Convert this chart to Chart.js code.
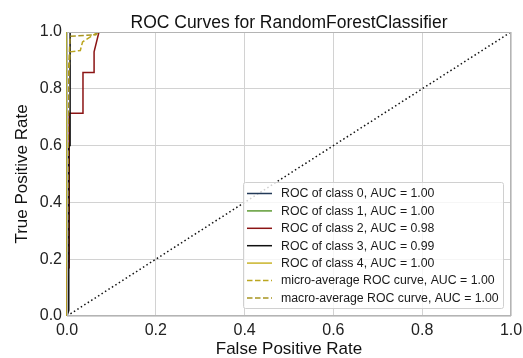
<!DOCTYPE html>
<html>
<head>
<meta charset="utf-8">
<script src="https://cdn.jsdelivr.net/npm/chart.js@4"></script>
<style>
html,body{margin:0;padding:0;background:#fff;}
#wrap{width:523px;height:358px;position:relative;}
</style>
</head>
<body>
<div id="wrap"><canvas id="c" width="523" height="358"></canvas></div>
<script>
// ---- Data ----
const titleText = "ROC Curves for RandomForestClassifier";
const xTitle = "False Positive Rate";
const yTitle = "True Positive Rate";
const tickValues = [0.0, 0.2, 0.4, 0.6, 0.8, 1.0];

const labels = [
  "ROC of class 0, AUC = 1.00",
  "ROC of class 1, AUC = 1.00",
  "ROC of class 2, AUC = 0.98",
  "ROC of class 3, AUC = 0.99",
  "ROC of class 4, AUC = 1.00",
  "micro-average ROC curve, AUC = 1.00",
  "macro-average ROC curve, AUC = 1.00"
];

const class0FPR = [0, 0, 1];
const class0TPR = [0, 1, 1];
const class1FPR = [0, 0, 1];
const class1TPR = [0, 1, 1];
const class2FPR = [0, 0, 0.005, 0.005, 0.036, 0.036, 0.061, 0.061, 0.072, 1];
const class2TPR = [0, 0.17, 0.17, 0.714, 0.714, 0.857, 0.857, 0.93, 1, 1];
const class3FPR = [0, 0.004, 0.004, 0.007, 0.007, 1];
const class3TPR = [0, 0.02, 0.6, 0.6, 1, 1];
const class4FPR = [0, 0, 1];
const class4TPR = [0, 1, 1];
const microFPR = [0, 0.002, 0.007, 0.03, 0.035, 0.07, 1];
const microTPR = [0, 0.8, 0.93, 0.935, 0.965, 1, 1];
const macroFPR = [0, 0.004, 0.007, 0.065, 0.07, 1];
const macroTPR = [0, 0.88, 0.985, 0.99, 1, 1];
const diagFPR = [0, 1];
const diagTPR = [0, 1];

const colors = ["#233a58", "#5f9b35", "#8b1414", "#111111", "#c9b42a", "#bba620", "#a89520"];

function pts(xs, ys){ return xs.map((x,i)=>({x:x, y:ys[i]})); }

const series = [
  [class0FPR, class0TPR], [class1FPR, class1TPR], [class2FPR, class2TPR],
  [class3FPR, class3TPR], [class4FPR, class4TPR], [microFPR, microTPR], [macroFPR, macroTPR]
];

const datasets = series.map((s, i) => ({
  label: labels[i],
  data: pts(s[0], s[1]),
  borderColor: colors[i],
  backgroundColor: colors[i],
  borderWidth: 1.5,
  borderDash: i >= 5 ? [5.5, 2.5] : [],
  showLine: true,
  pointRadius: 0,
  fill: false,
  tension: 0,
  clip: {left: 2, top: 0, right: 0, bottom: 0},
  order: 10 - i
}));
datasets.push({
  label: "_diag",
  data: pts(diagFPR, diagTPR),
  borderColor: "#111111",
  borderWidth: 1.5,
  borderDash: [1.5, 2.6],
  showLine: true,
  pointRadius: 0,
  fill: false,
  order: 20
});

const FONT = "'Liberation Sans', Arial, sans-serif";

const overlayPlugin = {
  id: 'overlay',
  afterDraw(chart){
    const ctx = chart.ctx;
    const ca = chart.chartArea;
    // spines on top
    ctx.save();
    ctx.strokeStyle = "#b4b4b4";
    ctx.lineWidth = 1;
    ctx.strokeRect(Math.round(ca.left) + 0.5, Math.round(ca.top) + 0.5,
                   Math.round(ca.right - ca.left) - 1, Math.round(ca.bottom - ca.top) - 1);
    ctx.restore();

    // title centred over plot area
    ctx.save();
    ctx.font = "17.5px " + FONT;
    ctx.fillStyle = "#111";
    ctx.textAlign = "center";
    ctx.textBaseline = "alphabetic";
    ctx.fillText(titleText, (ca.left + ca.right) / 2, 28);
    ctx.restore();

    // legend
    const bx = 243, by = 182, bw = 260, bh = 126;
    ctx.save();
    ctx.fillStyle = "rgba(255,255,255,0.8)";
    ctx.strokeStyle = "#d0d0d0";
    ctx.lineWidth = 1;
    const r = 2;
    ctx.beginPath();
    ctx.moveTo(bx + r + 0.5, by + 0.5);
    ctx.lineTo(bx + bw - r + 0.5, by + 0.5);
    ctx.quadraticCurveTo(bx + bw + 0.5, by + 0.5, bx + bw + 0.5, by + r + 0.5);
    ctx.lineTo(bx + bw + 0.5, by + bh - r + 0.5);
    ctx.quadraticCurveTo(bx + bw + 0.5, by + bh + 0.5, bx + bw - r + 0.5, by + bh + 0.5);
    ctx.lineTo(bx + r + 0.5, by + bh + 0.5);
    ctx.quadraticCurveTo(bx + 0.5, by + bh + 0.5, bx + 0.5, by + bh - r + 0.5);
    ctx.lineTo(bx + 0.5, by + r + 0.5);
    ctx.quadraticCurveTo(bx + 0.5, by + 0.5, bx + r + 0.5, by + 0.5);
    ctx.closePath();
    ctx.fill();
    ctx.stroke();

    ctx.font = "12.3px " + FONT;
    ctx.textBaseline = "middle";
    ctx.textAlign = "left";
    const ds = chart.data.datasets.filter(d => d.label && d.label[0] !== '_');
    ds.forEach((d, i) => {
      const y = 193.5 + i * 17.4;
      ctx.strokeStyle = d.borderColor;
      ctx.lineWidth = 1.5;
      ctx.setLineDash(d.borderDash || []);
      ctx.beginPath();
      ctx.moveTo(247, y);
      ctx.lineTo(272, y);
      ctx.stroke();
      ctx.setLineDash([]);
      ctx.fillStyle = "#1a1a1a";
      ctx.fillText(d.label, 281, y + 0.5);
    });
    ctx.restore();
  }
};

new Chart(document.getElementById('c'), {
  type: 'scatter',
  data: { datasets: datasets },
  options: {
    responsive: false,
    animation: false,
    layout: { padding: { left: 0, right: 12, top: 32, bottom: 0 } },
    plugins: {
      legend: { display: false },
      tooltip: { enabled: false },
      title: { display: false }
    },
    scales: {
      x: {
        type: 'linear',
        min: 0, max: 1,
        afterFit(scale){ scale.height = 42; scale.paddingLeft = 0; scale.paddingRight = 0; },
        afterBuildTicks(scale){ scale.ticks = tickValues.map(v => ({value: v})); },
        ticks: {
          color: "#222",
          font: { family: FONT, size: 16 },
          padding: 5,
          maxRotation: 0,
          callback: v => Number(v).toFixed(1)
        },
        grid: { color: "#d2d2d2", lineWidth: 1, drawTicks: false },
        border: { display: false },
        title: {
          display: true, text: xTitle, color: "#111",
          font: { family: FONT, size: 17, lineHeight: 1 },
          padding: { top: 0, bottom: 0 }
        }
      },
      y: {
        type: 'linear',
        min: 0, max: 1,
        afterFit(scale){ scale.width = 67; scale.paddingTop = 0; scale.paddingBottom = 0; },
        afterBuildTicks(scale){ scale.ticks = tickValues.map(v => ({value: v})); },
        ticks: {
          color: "#222",
          font: { family: FONT, size: 16 },
          padding: 5,
          callback: v => Number(v).toFixed(1)
        },
        grid: { color: "#d2d2d2", lineWidth: 1, drawTicks: false },
        border: { display: false },
        title: {
          display: true, text: yTitle, color: "#111",
          font: { family: FONT, size: 17, lineHeight: 1 },
          padding: { top: 13.5, bottom: 0 }
        }
      }
    }
  },
  plugins: [overlayPlugin]
});
</script>
</body>
</html>
